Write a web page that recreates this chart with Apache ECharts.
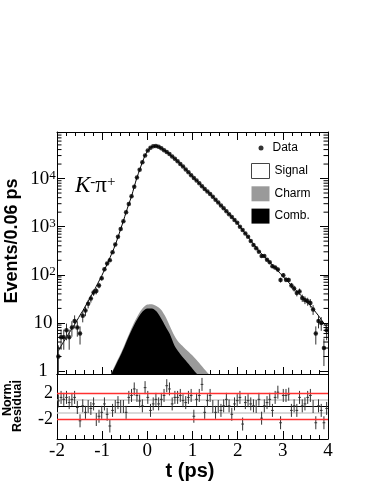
<!DOCTYPE html>
<html>
<head>
<meta charset="utf-8">
<script src="https://cdn.jsdelivr.net/npm/echarts@6/dist/echarts.min.js"></script>
<style>
  html, body { margin: 0; padding: 0; background: #fff; }
  #main { width: 374px; height: 484px; }
</style>
</head>
<body>
<div id="main"></div>
<script>
// histogram: 100 bins of 0.06 ps from -2 to 4 ps
var binLo = -2, binW = 0.06;

// events per bin
var counts = [2, 5, 5, 7, 5, 8, 11, 8, 6, 14,
  18, 25, 32, 43, 46, 60, 85, 130, 172, 200,
  295, 427, 617, 891, 1288, 1995, 2951, 4266, 6761, 10470,
  15140, 21880, 30200, 38020, 43650, 46770, 47300, 45710, 42660, 38900,
  35480, 32360, 28840, 25700, 22910, 19950, 17780, 15490, 13490, 11750,
  10230, 9120, 7940, 6920, 6030, 5370, 4790, 4170, 3630, 3160,
  2750, 2400, 2090, 1820, 1585, 1380, 1200, 1000, 851, 724,
  617, 501, 417, 355, 302, 245, 245, 204, 182, 151,
  141, 129, 78, 98, 79, 78, 60, 52, 42, 45,
  33, 30, 28, 26, 19, 6, 11, 10, 3, 7];

// fit curve at the bin centres
var fitCurve = [2.6, 3.3, 4.1, 5.0, 6.2, 7.6, 9.3, 11.5, 14.5, 17.8,
  22.4, 28.2, 35.5, 44.7, 57.5, 74, 95, 126, 166, 224,
  302, 417, 603, 891, 1318, 1995, 2951, 4266, 6761, 10470,
  15140, 21880, 30200, 38020, 43650, 46770, 47300, 45710, 42660, 38900,
  35480, 32360, 28840, 25700, 22910, 19950, 17780, 15490, 13490, 11750,
  10230, 9120, 7940, 6920, 6030, 5370, 4790, 4170, 3630, 3160,
  2750, 2400, 2090, 1820, 1585, 1380, 1200, 1000, 851, 724,
  617, 513, 437, 372, 316, 275, 240, 209, 182, 158,
  138, 120, 105, 91, 79, 69, 60, 52, 46, 40,
  35, 30, 26, 23, 19.5, 16.6, 14.1, 11.7, 9.8, 8.1];

// normalised residuals
var residuals = [0.86, 1.4, 1.1, 1.4, 0.6, 1.1, 1.4, -0.15, -2.2, 0.1,
  -0.9, 0, -0.3, 0.4, -2.0, -1.5, -0.9, 0.4, -1.2, -3.0,
  -0.6, 0, 0.6, 0, 0, -0.9, 1.4, 1.7, 2.7, 1.7,
  0.85, 0.1, 2.9, 1.4, -0.6, 0.4, 1.1, 0.4, 1.1, 1.7,
  3.2, 2.7, 0.4, 1.4, 1.4, 1.7, 0.9, 0.6, 1.4, 1.7,
  -1.5, 1.1, 1.7, 3.4, -0.9, 0.9, 1.7, 0, -0.9, 0,
  -0.6, 0.1, 1.1, 0.1, -1.2, 0.4, 0.9, 1.4, -2.7, 0.6,
  0.9, 0.4, 0.1, 0, 1.1, -1.8, 0.1, 0.6, 1.1, -0.6,
  1.4, 2.2, -2.5, 1.7, 1.7, 1.9, -0.6, 0.1, -0.6, 1.4,
  0.1, 0.4, 1.4, 1.7, 0, -2.5, 0.1, -0.6, -2.5, -0.3];

// background components
var bkgT = [-0.8, -0.7, -0.6, -0.5, -0.4, -0.3, -0.2, -0.1, 0, 0.1, 0.2, 0.3,
  0.4, 0.5, 0.6, 0.7, 0.8, 0.9, 1.0, 1.1, 1.2, 1.3, 1.4];
var charmTotal = [0.89, 1.41, 2.19, 3.6, 6.0, 9.8, 14.8, 20.4, 24, 24.5, 22.4, 19,
  13.5, 8.5, 5.4, 3.9, 3.16, 2.57, 2.09, 1.66, 1.29, 1.0, 0.79];
var combBkg = [0.85, 1.32, 2.04, 3.3, 5.5, 8.7, 12.9, 17.4, 20, 20, 17.4, 12.6,
  8.5, 5.8, 3.4, 2.45, 1.86, 1.45, 1.12, 0.87, 0.7, 0.6, 0.5];

// residual reference levels
var redLevels = [2, -2];
var grayLevels = [1, -1];

var yMin = 0.866, yMax = 92700;
var serif = 'Liberation Serif';
var sans = 'Liberation Sans';

var chart = echarts.init(document.getElementById('main'));

var tCenters = counts.map(function (c, i) { return +(binLo + binW * (i + 0.5)).toFixed(3); });
var dataPts = counts.map(function (c, i) { return [tCenters[i], c]; });
var errData = counts.map(function (c, i) {
  var e = Math.sqrt(c);
  return [tCenters[i], c, Math.max(c - e, yMin), c + e];
});
var fitPts = fitCurve.map(function (v, i) { return [tCenters[i], v]; });
var residPts = residuals.map(function (r, i) { return [tCenters[i], r]; });

// log minor tick positions 2..9 x 10^k
var minorVals = [];
for (var k = 0; k <= 4; k++) {
  for (var m = 2; m <= 9; m++) minorVals.push([binLo, m * Math.pow(10, k)]);
}

function seg(a, b, color) {
  return { type: 'line', shape: { x1: a[0], y1: a[1], x2: b[0], y2: b[1] },
    style: { stroke: color, lineWidth: 1 } };
}

function renderErr(params, api) {
  var t = api.value(0), v = api.value(1);
  return { type: 'group', children: [
    seg(api.coord([t, api.value(3)]), api.coord([t, api.value(2)]), '#333'),
    seg(api.coord([t - binW / 2, v]), api.coord([t + binW / 2, v]), '#333')
  ] };
}

function renderCross(params, api) {
  var t = api.value(0), r = api.value(1);
  return { type: 'group', children: [
    seg(api.coord([t, r + 1]), api.coord([t, r - 1]), '#333'),
    seg(api.coord([t - binW / 2, r]), api.coord([t + binW / 2, r]), '#333')
  ] };
}

function renderMinor(params, api) {
  var cs = params.coordSys;
  var y = api.coord([binLo, api.value(1)])[1];
  return { type: 'group', children: [
    seg([cs.x, y], [cs.x + 4.5, y], '#000'),
    seg([cs.x + cs.width - 4.5, y], [cs.x + cs.width, y], '#000')
  ] };
}

function logLabel(v) {
  var l = Math.log10(v), e = Math.round(l);
  if (Math.abs(l - e) > 1e-6 || e < 0) return '';
  if (e === 0) return '1';
  if (e === 1) return '10';
  return '10{sup|' + e + '}';
}

function levelLine(name, level, color, width, z) {
  return {
    name: name, type: 'line', xAxisIndex: 2, yAxisIndex: 2,
    data: [[-2, level], [4, level]], symbol: 'none',
    lineStyle: { color: color, width: width }, silent: true, z: z
  };
}

var axLine = { onZero: false, lineStyle: { color: '#000', width: 1 } };

function xAx(grid, pos, major, minor, labels) {
  return {
    gridIndex: grid, type: 'value', min: -2, max: 4, interval: 1, position: pos,
    axisLine: axLine,
    axisTick: { show: major > 0, inside: true, length: major, lineStyle: { color: '#000' } },
    minorTick: { show: minor > 0, splitNumber: 5, length: minor, lineStyle: { color: '#000' } },
    axisLabel: { show: labels, margin: 3, color: '#000', fontFamily: serif, fontSize: 19 },
    splitLine: { show: false }
  };
}

var series = [
  {
    name: 'Charm', type: 'line', xAxisIndex: 0, yAxisIndex: 0,
    data: bkgT.map(function (t, i) { return [t, charmTotal[i]]; }),
    smooth: 0.3, symbol: 'none', lineStyle: { width: 0 },
    itemStyle: { color: '#9a9a9a' },
    areaStyle: { color: '#9a9a9a', opacity: 1, origin: 'start' }, z: 1, silent: true
  },
  {
    name: 'Comb.', type: 'line', xAxisIndex: 0, yAxisIndex: 0,
    data: bkgT.map(function (t, i) { return [t, combBkg[i]]; }),
    smooth: 0.3, symbol: 'none', lineStyle: { width: 0 },
    itemStyle: { color: '#000' },
    areaStyle: { color: '#000', opacity: 1, origin: 'start' }, z: 2, silent: true
  },
  {
    name: 'Signal', type: 'line', xAxisIndex: 0, yAxisIndex: 0, data: fitPts,
    smooth: 0.3, symbol: 'none', lineStyle: { color: '#000', width: 1 },
    itemStyle: { color: '#fff' }, z: 3, silent: true
  },
  {
    name: 'errors', type: 'custom', xAxisIndex: 0, yAxisIndex: 0,
    renderItem: renderErr, data: errData, z: 4, silent: true
  },
  {
    name: 'Data', type: 'scatter', xAxisIndex: 0, yAxisIndex: 0, data: dataPts,
    symbolSize: 4.5, itemStyle: { color: '#000' }, z: 5, silent: true
  },
  {
    name: 'minor', type: 'custom', xAxisIndex: 0, yAxisIndex: 0,
    renderItem: renderMinor, data: minorVals, z: 6, silent: true
  },
  levelLine('zero', 0, '#000', 1, 3),
  {
    name: 'resid', type: 'custom', xAxisIndex: 2, yAxisIndex: 2,
    renderItem: renderCross, data: residPts, z: 4, silent: true
  }
];
grayLevels.forEach(function (l, i) { series.push(levelLine('gray' + i, l, '#cdcdcd', 1.5, 2)); });
redLevels.forEach(function (l, i) { series.push(levelLine('red' + i, l, '#ff3030', 1.6, 5)); });

var option = {
  animation: false,
  backgroundColor: '#fff',
  grid: [
    { left: 57, top: 132, width: 271, height: 242 },
    { left: 57, top: 374, width: 271, height: 65 }
  ],
  xAxis: [
    xAx(0, 'bottom', 7, 4, false),
    xAx(0, 'top', 8, 4, false),
    xAx(1, 'bottom', 8, 4, true),
    xAx(1, 'top', 0, 0, false)
  ],
  yAxis: [
    {
      gridIndex: 0, type: 'log', min: yMin, max: yMax, position: 'left',
      axisLine: axLine,
      axisTick: { inside: true, length: 8, lineStyle: { color: '#000' } },
      axisLabel: {
        formatter: logLabel, align: 'center', margin: 14, color: '#000',
        fontFamily: serif, fontSize: 19,
        rich: { sup: { fontFamily: serif, fontSize: 13, verticalAlign: 'top', color: '#000' } }
      },
      splitLine: { show: false }
    },
    {
      gridIndex: 0, type: 'log', min: yMin, max: yMax, position: 'right',
      axisLine: axLine,
      axisTick: { inside: true, length: 8, lineStyle: { color: '#000' } },
      axisLabel: { show: false },
      splitLine: { show: false }
    },
    {
      gridIndex: 1, type: 'value', min: -5, max: 5, interval: 1, position: 'left',
      axisLine: axLine,
      axisTick: { show: false },
      axisLabel: {
        formatter: function (v) { return (v === 2 || v === -2) ? String(v) : ''; },
        margin: 4, color: '#000', fontFamily: serif, fontSize: 18, padding: [10, 0, 0, 0]
      },
      splitLine: { show: false }
    },
    {
      gridIndex: 1, type: 'value', min: -5, max: 5, interval: 1, position: 'right',
      axisLine: axLine, axisTick: { show: false }, axisLabel: { show: false },
      splitLine: { show: false }
    }
  ],
  legend: [
    {
      data: [{ name: 'Data', icon: 'circle' }],
      left: 253.5, top: 137, itemWidth: 5, itemHeight: 5, selectedMode: false,
      textStyle: { fontFamily: sans, fontSize: 12, color: '#000', padding: [0, 0, 0, 4] }
    },
    {
      data: [
        { name: 'Signal', icon: 'rect', itemStyle: { color: '#fff', borderColor: '#444', borderWidth: 1 } },
        { name: 'Charm', icon: 'rect', itemStyle: { color: '#9a9a9a', borderWidth: 0 } },
        { name: 'Comb.', icon: 'rect', itemStyle: { color: '#000', borderWidth: 0 } }
      ],
      orient: 'vertical', left: 246, top: 158, itemWidth: 18, itemHeight: 15, itemGap: 7.3,
      selectedMode: false,
      textStyle: { fontFamily: sans, fontSize: 12, color: '#000' }
    }
  ],
  graphic: [
    {
      type: 'text', x: 12, y: 241, rotation: Math.PI / 2,
      style: { text: 'Events/0.06 ps', fontFamily: sans, fontWeight: 'bold', fontSize: 18,
        fill: '#000', align: 'center', verticalAlign: 'middle' }
    },
    {
      type: 'text', x: 13, y: 380, rotation: Math.PI / 2,
      style: { text: 'Norm.\nResidual', fontFamily: sans, fontWeight: 'bold', fontSize: 12.5,
        lineHeight: 10, fill: '#000', align: 'right', verticalAlign: 'middle' }
    },
    {
      type: 'text', x: 190, y: 471,
      style: { text: 't (ps)', fontFamily: sans, fontWeight: 'bold', fontSize: 20,
        fill: '#000', align: 'center', verticalAlign: 'middle' }
    },
    {
      type: 'text', x: 75, y: 186,
      style: {
        text: '{k|K}{s|-}{p|π}{s|+}', align: 'left', verticalAlign: 'middle', fill: '#000',
        rich: {
          k: { fontFamily: serif, fontStyle: 'italic', fontSize: 23 },
          p: { fontFamily: serif, fontSize: 23 },
          s: { fontFamily: serif, fontSize: 15, verticalAlign: 'top' }
        }
      }
    }
  ],
  series: series
};

chart.setOption(option);
</script>
</body>
</html>
